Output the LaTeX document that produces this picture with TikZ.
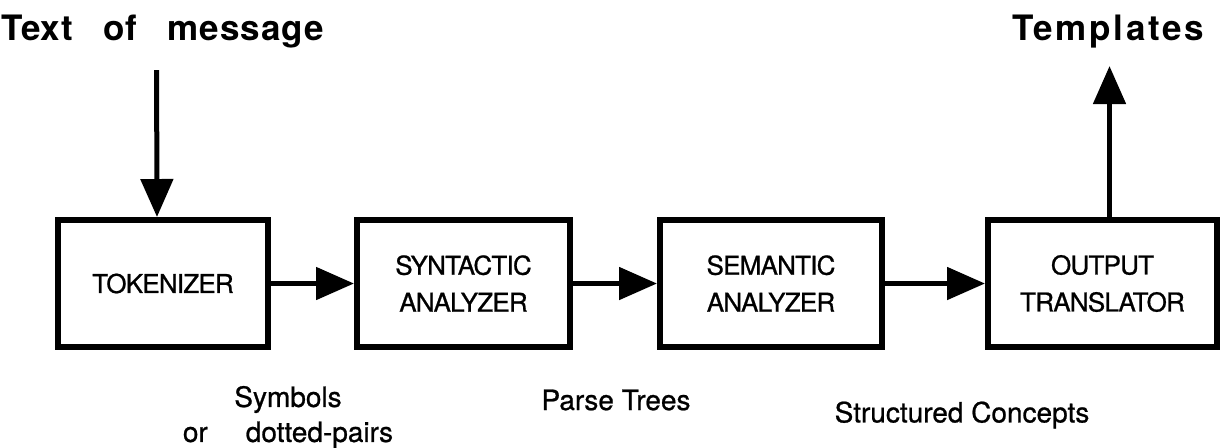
\documentclass[tikz,border=0pt]{standalone}
\usepackage{fontspec}
\setmainfont{TeX Gyre Heros}[FakeBold=0.8]
\newfontfamily\titlefont[LetterSpace=3,WordSpace=2.8]{TeX Gyre Heros}
\newfontfamily\boxfont[LetterSpace=-3,FakeBold=0.8]{TeX Gyre Heros}
\usetikzlibrary{arrows.meta,positioning}

\begin{document}
\begin{tikzpicture}[
    x=1pt, y=1pt,
    heading/.style={font=\titlefont\bfseries\fontsize{17.5pt}{21pt}\selectfont, inner sep=0pt, anchor=base},
    wide heading/.style={heading, font=\titlefont\bfseries\addfontfeatures{LetterSpace=7.5}\fontsize{17.5pt}{21pt}\selectfont},
    box/.style={draw, line width=3pt, align=center, minimum height=63.5pt, font=\boxfont\fontsize{13pt}{18.5pt}\selectfont},
    lbl/.style={align=center, inner sep=0pt, font=\fontsize{14pt}{17.5pt}\selectfont},
    flow/.style={-{Triangle[length=19pt, width=16pt]}, line width=2.5pt}
]
\path[use as bounding box] (0,0) rectangle (612.5,-223.5);
\node[heading] (msg) at (81.25,-20) {Text of message};
\node[wide heading] (tpl) at (554,-20) {Templates};
\node[box, minimum width=105pt] (tok) at (81.5,-141.75) {TOKENIZER};
\node[box, minimum width=106.5pt, right=41.5pt of tok] (syn) {SYNTACTIC\\ANALYZER};
\node[box, minimum width=111pt, right=42pt of syn] (sem) {SEMANTIC\\ANALYZER};
\node[box, minimum width=114.5pt, right=50pt of sem] (out) {OUTPUT\\TRANSLATOR};
\node[lbl] (sym) at ([xshift=8.5pt,yshift=-33.5pt]tok.south east) {Symbols\\or\hspace{19pt}dotted-pairs};
\node[lbl] (parse) at ([xshift=21.5pt,yshift=-25pt]syn.south east) {Parse Trees};
\node[lbl] (conc) at ([xshift=38.5pt,yshift=-32.5pt]sem.south east) {Structured Concepts};
\draw[flow] (tok) -- (syn);
\draw[flow] (syn) -- (sem);
\draw[flow] (sem) -- (out);
\draw[flow, shorten <=11pt] ([xshift=-3pt]msg.south) -- ([xshift=-3pt]tok.north);
\draw[flow, shorten >=9pt] ([xshift=3.5pt]out.north) -- ([xshift=3.5pt]out.north |- tpl.south);
\end{tikzpicture}
\end{document}
